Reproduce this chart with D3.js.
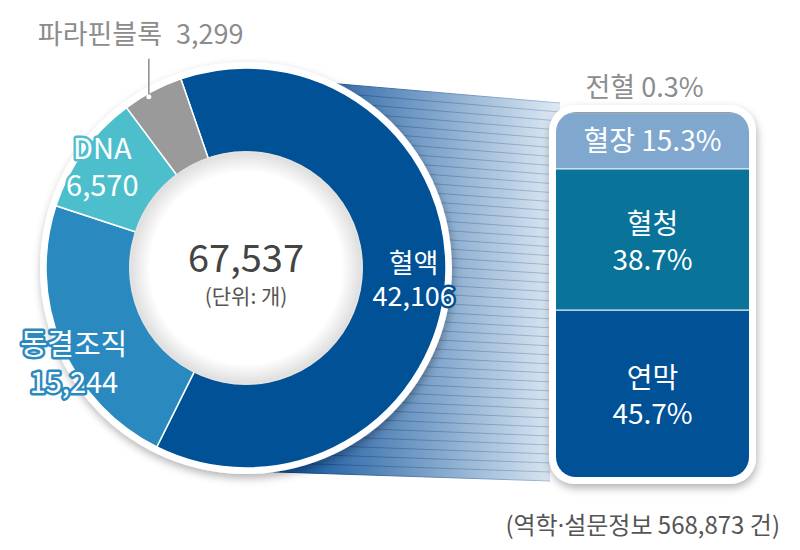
<!DOCTYPE html>
<html>
<head>
<meta charset="utf-8">
<script src="https://cdn.jsdelivr.net/npm/d3@7"></script>
<style>
  body { margin: 0; background: #fff; }
  text { font-family: "Noto Sans CJK KR", "Noto Sans", sans-serif; }
</style>
</head>
<body>
<div id="chart"></div>
<script>
// donut: sample counts by type
var donutNames  = ["혈액", "동결조직", "DNA", "파라핀블록"];
var donutValues = [42106, 15244, 6570, 3299];
var donutColors = ["#015197", "#2a8abf", "#4dbfcc", "#9a9a9a"];
var totalLabel  = "67,537";
var unitLabel   = "(단위: 개)";

// bar: breakdown of 혈액 (%)
var barNames  = ["전혈", "혈장", "혈청", "연막"];
var barValues = [0.3, 15.3, 38.7, 45.7];
var barColors = ["#9a9a9a", "#80a7cd", "#0a7399", "#015197"];
var footLabel = ["(역학", "·", "설문정보 568,873 건)"];

var width = 800, height = 550;
var cx = 246, cy = 268, R = 200, r0 = 117;

var svg = d3.select("#chart").append("svg")
    .attr("width", width)
    .attr("height", height);

var defs = svg.append("defs");

var shadow = defs.append("filter").attr("id", "shadow")
    .attr("x", "-20%").attr("y", "-20%").attr("width", "140%").attr("height", "140%");
shadow.append("feDropShadow")
    .attr("dx", 1).attr("dy", 4).attr("stdDeviation", 4)
    .attr("flood-color", "#000").attr("flood-opacity", 0.3);

var inner = defs.append("radialGradient").attr("id", "innerFill");
inner.append("stop").attr("offset", "0.82").attr("stop-color", "#fff");
inner.append("stop").attr("offset", "1").attr("stop-color", "#dcdcdc");

var bandFill = defs.append("linearGradient").attr("id", "bandFill")
    .attr("gradientUnits", "userSpaceOnUse")
    .attr("x1", 300).attr("x2", 556).attr("y1", 0).attr("y2", 0);
bandFill.append("stop").attr("offset", "0").attr("stop-color", "#1a5a9f");
bandFill.append("stop").attr("offset", "1").attr("stop-color", "#dde8f2");

var bandLine = defs.append("linearGradient").attr("id", "bandLine")
    .attr("gradientUnits", "userSpaceOnUse")
    .attr("x1", 300).attr("x2", 556).attr("y1", 0).attr("y2", 0);
bandLine.append("stop").attr("offset", "0").attr("stop-color", "#0b4586");
bandLine.append("stop").attr("offset", "1").attr("stop-color", "#a7bfdb");

//////////////////////////////////////////////////////////////////////////////
// bar geometry
var bx0 = 556, bx1 = 749;
var barY = d3.scaleLinear().domain([0, 100]).range([112, 477]);

// band between donut and bar (behind both)
var bandTop = [[cx, cy - R + 8], [bx0 + 4, 103]];
var bandBot = [[cx, cy + R + 3], [bx0 - 6, 481]];
var nLines = 42;

svg.append("path")
    .attr("d", d3.line()([bandTop[0], bandTop[1], bandBot[1], bandBot[0]]) + "Z")
    .attr("fill", "url(#bandFill)");

svg.append("g").selectAll("line")
    .data(d3.range(nLines + 1).map(function(i) { return i / nLines; }))
    .enter().append("line")
    .attr("x1", cx)
    .attr("x2", function(t) { return d3.interpolate(bandTop[1][0], bandBot[1][0])(t); })
    .attr("y1", function(t) { return d3.interpolate(bandTop[0][1], bandBot[0][1])(t); })
    .attr("y2", function(t) { return d3.interpolate(bandTop[1][1], bandBot[1][1])(t); })
    .attr("stroke", "url(#bandLine)")
    .attr("stroke-width", 1);

//////////////////////////////////////////////////////////////////////////////
// donut
var g = svg.append("g").attr("transform", "translate(" + cx + "," + cy + ")");

g.append("circle").attr("r", R + 6).attr("fill", "#fff").attr("filter", "url(#shadow)");

var pie = d3.pie().sort(null)
    .startAngle(-19 * Math.PI / 180)
    .endAngle(-19 * Math.PI / 180 + 2 * Math.PI);
var arcs = pie(donutValues);
var arc = d3.arc().innerRadius(r0 - 2).outerRadius(R);

g.selectAll("path.slice")
    .data(arcs)
    .enter().append("path")
    .attr("class", "slice")
    .attr("d", arc)
    .attr("fill", function(d, i) { return donutColors[i]; })
    .attr("stroke", "#fff")
    .attr("stroke-width", 1.5);

g.append("circle").attr("r", r0).attr("fill", "url(#innerFill)");
g.append("circle").attr("r", r0 - 1).attr("fill", "none")
    .attr("stroke", "#e6e6e6").attr("stroke-width", 1);

g.append("text").attr("y", 4).attr("text-anchor", "middle")
    .attr("font-size", 38).attr("fill", "#444").attr("font-weight", 400)
    .text(totalLabel);
g.append("text").attr("y", 36).attr("text-anchor", "middle")
    .attr("font-size", 21).attr("fill", "#555")
    .text(unitLabel);

// slice labels: white text with a halo in the slice colour
var labelRadius = [168, 193, 177];
var labelShift  = [[0, 0, 27, 33], [6, 19, 29, 38], [0, 0, 29, 37]];

function haloText(sel, x, y, size, color, str) {
    return sel.append("text")
        .attr("x", x).attr("y", y)
        .attr("text-anchor", "middle")
        .attr("font-size", size)
        .attr("fill", "#fff")
        .attr("stroke", color)
        .attr("stroke-width", 5)
        .attr("stroke-linejoin", "round")
        .attr("paint-order", "stroke")
        .text(str);
}

arcs.slice(0, 3).forEach(function(d, i) {
    var a = (d.startAngle + d.endAngle) / 2;
    var s = labelShift[i];
    var x = Math.sin(a) * labelRadius[i] + s[0], y = -Math.cos(a) * labelRadius[i] + s[1];
    haloText(g, x, y - 6, s[2], donutColors[i], donutNames[i]);
    haloText(g, x, y - 6 + s[3], s[2], donutColors[i], d3.format(",")(donutValues[i]));
});

// 파라핀블록 callout
var pa = arcs[3];
var pAng = (pa.startAngle + pa.endAngle) / 2 - 0.03;
var px = Math.sin(pAng) * (R - 3), py = -Math.cos(pAng) * (R - 3);
g.append("line")
    .attr("x1", px).attr("y1", py)
    .attr("x2", px).attr("y2", py - 38)
    .attr("stroke", "#8c8c8c").attr("stroke-width", 1.5);
g.append("circle").attr("cx", px).attr("cy", py).attr("r", 2.5).attr("fill", "#fff");
var pt = g.append("text")
    .attr("x", px - 111).attr("y", py - 53)
    .attr("font-size", 27).attr("fill", "#8c8c8c");
pt.append("tspan").text(donutNames[3]);
pt.append("tspan").attr("dx", 14).text(d3.format(",")(donutValues[3]));

//////////////////////////////////////////////////////////////////////////////
// stacked bar
svg.append("rect")
    .attr("x", bx0 - 7).attr("y", barY(0) - 7)
    .attr("width", bx1 - bx0 + 14).attr("height", barY(100) - barY(0) + 14)
    .attr("rx", 26).attr("fill", "#fff").attr("filter", "url(#shadow)");

defs.append("clipPath").attr("id", "barClip")
    .append("rect")
    .attr("x", bx0).attr("y", barY(0))
    .attr("width", bx1 - bx0).attr("height", barY(100) - barY(0))
    .attr("rx", 20);

var cum = d3.cumsum(barValues);
var segs = barValues.map(function(v, i) { return { v: v, y0: cum[i] - v, y1: cum[i], i: i }; });

var bar = svg.append("g").attr("clip-path", "url(#barClip)");
bar.selectAll("rect")
    .data(segs)
    .enter().append("rect")
    .attr("x", bx0)
    .attr("y", function(d) { return barY(d.y0); })
    .attr("width", bx1 - bx0)
    .attr("height", function(d) { return barY(d.y1) - barY(d.y0); })
    .attr("fill", function(d) { return barColors[d.i]; });

bar.selectAll("line")
    .data(segs.slice(2))
    .enter().append("line")
    .attr("x1", bx0).attr("x2", bx1)
    .attr("y1", function(d) { return barY(d.y0); })
    .attr("y2", function(d) { return barY(d.y0); })
    .attr("stroke", "#e8f0f7").attr("stroke-width", 1.2);

var bmid = (bx0 + bx1) / 2;

svg.append("text")
    .attr("x", bmid - 8).attr("y", barY(0) - 15)
    .attr("text-anchor", "middle").attr("font-size", 27).attr("fill", "#8c8c8c")
    .text(barNames[0] + " " + barValues[0] + "%");

svg.append("text")
    .attr("x", bmid).attr("y", (barY(segs[1].y0) + barY(segs[1].y1)) / 2 + 10)
    .attr("text-anchor", "middle").attr("font-size", 28).attr("fill", "#fff")
    .text(barNames[1] + " " + barValues[1] + "%");

segs.slice(2).forEach(function(d) {
    var ym = (barY(d.y0) + barY(d.y1)) / 2;
    svg.append("text")
        .attr("x", bmid).attr("y", ym - 6)
        .attr("text-anchor", "middle").attr("font-size", 28).attr("fill", "#fff")
        .text(barNames[d.i]);
    svg.append("text")
        .attr("x", bmid).attr("y", ym + 30)
        .attr("text-anchor", "middle").attr("font-size", 28).attr("fill", "#fff")
        .text(barValues[d.i] + "%");
});

var ft = svg.append("text")
    .attr("x", 780).attr("y", 534)
    .attr("text-anchor", "end").attr("font-size", 24).attr("fill", "#555");
ft.append("tspan").text(footLabel[0]);
ft.append("tspan").attr("font-family", "Noto Sans").text(footLabel[1]);
ft.append("tspan").text(footLabel[2]);
</script>
</body>
</html>
